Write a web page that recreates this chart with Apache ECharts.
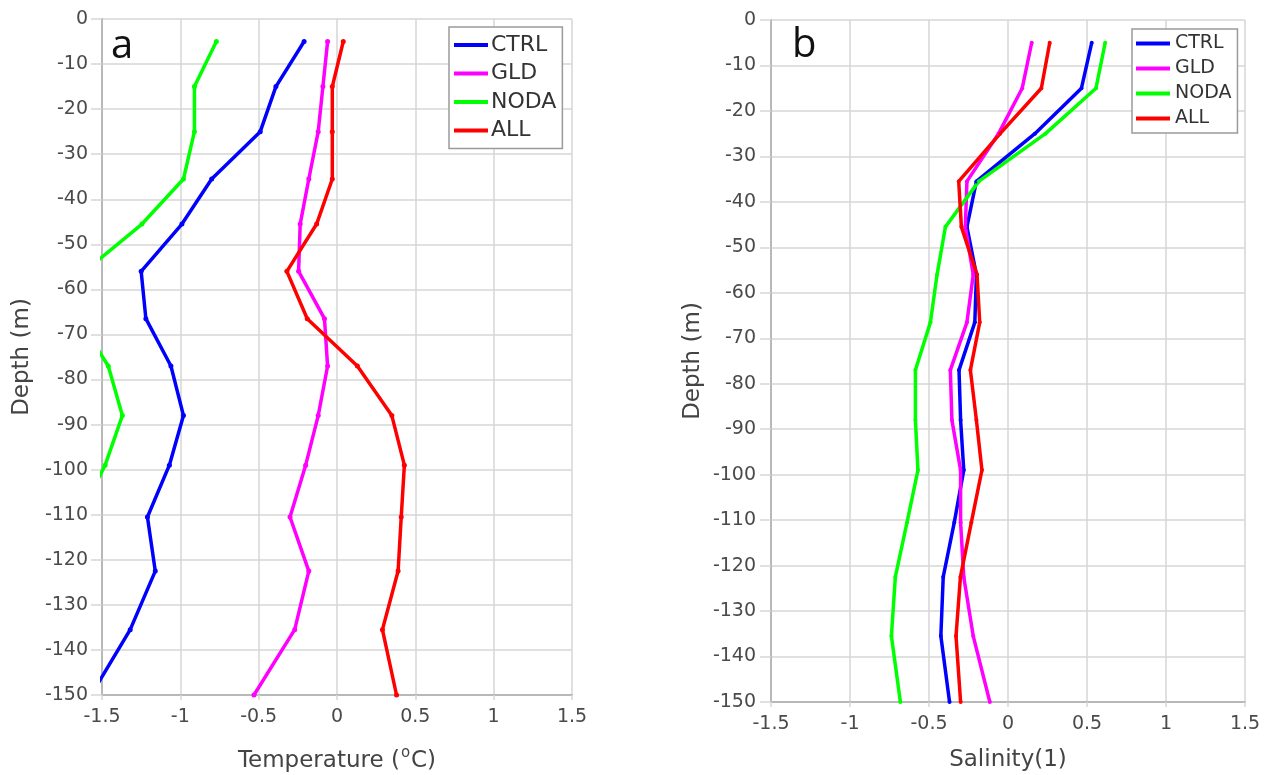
<!DOCTYPE html>
<html>
<head>
<meta charset="utf-8">
<script src="https://cdn.jsdelivr.net/npm/echarts@6/dist/echarts.min.js"></script>
<style>
html,body{margin:0;padding:0;background:#fff;}
#c{width:1284px;height:775px;}
</style>
</head>
<body>
<div id="c"></div>
<script>
// Depth levels (m) — plotted as negative values
const depths = [5, 15, 25, 35.5, 45.5, 56, 66.5, 77, 88, 99, 110.5, 122.5, 135.5, 150];
const seriesNames = ['CTRL', 'GLD', 'NODA', 'ALL'];
const seriesColors = ['#0000ff', '#ff00ff', '#00ff00', '#ff0000'];

// Panel a: temperature anomaly (°C)
const tempCTRL = [-0.21, -0.39, -0.49, -0.80, -0.99, -1.25, -1.22, -1.06, -0.98, -1.07, -1.21, -1.16, -1.32, -1.57];
const tempGLD  = [-0.06, -0.09, -0.12, -0.18, -0.235, -0.245, -0.08, -0.06, -0.12, -0.20, -0.30, -0.18, -0.27, -0.53];
const tempNODA = [-0.77, -0.91, -0.91, -0.98, -1.245, -1.61, -1.65, -1.46, -1.37, -1.48, -1.65, -1.70, -1.75, -1.80];
const tempALL  = [0.04, -0.03, -0.03, -0.03, -0.13, -0.32, -0.19, 0.13, 0.35, 0.43, 0.41, 0.39, 0.29, 0.38];

// Panel b: salinity anomaly
const salCTRL = [0.53, 0.465, 0.17, -0.20, -0.26, -0.20, -0.21, -0.31, -0.30, -0.28, -0.34, -0.41, -0.425, -0.37];
const salGLD  = [0.15, 0.09, -0.06, -0.26, -0.27, -0.22, -0.26, -0.365, -0.355, -0.30, -0.30, -0.28, -0.22, -0.115];
const salNODA = [0.615, 0.557, 0.237, -0.185, -0.396, -0.449, -0.491, -0.586, -0.586, -0.57, -0.639, -0.713, -0.738, -0.681];
const salALL  = [0.264, 0.211, -0.05, -0.312, -0.295, -0.196, -0.179, -0.238, -0.20, -0.165, -0.232, -0.301, -0.329, -0.30];

const tempSets = [tempCTRL, tempGLD, tempNODA, tempALL];
const salSets = [salCTRL, salGLD, salNODA, salALL];

const FONT = 'DejaVu Sans';
const labelColor = '#4a4a4a';
const gridColor = '#d6d6d6';
const axisColor = '#b8b8b8';

function pairs(vals) { return vals.map((v, i) => [v, -depths[i]]); }

function xAxisCfg(idx, name, gap, rich) {
  return {
    gridIndex: idx, type: 'value', min: -1.5, max: 1.5, interval: 0.5,
    name: name, nameLocation: 'middle', nameGap: gap,
    nameTextStyle: { fontFamily: FONT, fontSize: 23, color: '#444', rich: rich || {} },
    axisLine: { show: true, onZero: false, lineStyle: { color: axisColor, width: 2 } },
    axisTick: { show: true, inside: false, length: 5, lineStyle: { color: gridColor, width: 1.5 } },
    axisLabel: { fontFamily: FONT, fontSize: 19, color: labelColor, margin: 13 },
    splitLine: { show: true, lineStyle: { color: gridColor, width: 1.5 } }
  };
}
function yAxisCfg(idx, gap, margin) {
  return {
    gridIndex: idx, type: 'value', min: -150, max: 0, interval: 10,
    name: 'Depth (m)', nameLocation: 'middle', nameGap: gap,
    nameTextStyle: { fontFamily: FONT, fontSize: 23, color: '#444' },
    axisLine: { show: true, onZero: false, lineStyle: { color: axisColor, width: 2 } },
    axisTick: { show: true, inside: false, length: 11, lineStyle: { color: gridColor, width: 1.5 } },
    axisLabel: { fontFamily: FONT, fontSize: 19, color: labelColor, margin: margin },
    splitLine: { show: true, lineStyle: { color: gridColor, width: 1.5 } }
  };
}

const series = [];
seriesNames.forEach((n, k) => {
  series.push({
    name: n, type: 'line', xAxisIndex: 0, yAxisIndex: 0,
    data: pairs(tempSets[k]), clip: true,
    symbol: 'circle', symbolSize: 5, showSymbol: true,
    lineStyle: { color: seriesColors[k], width: 3.5 },
    itemStyle: { color: seriesColors[k] },
    emphasis: { disabled: true }, animation: false, z: 3
  });
});
seriesNames.forEach((n, k) => {
  series.push({
    name: n, type: 'line', xAxisIndex: 1, yAxisIndex: 1,
    data: pairs(salSets[k]), clip: true,
    symbol: 'circle', symbolSize: 4, showSymbol: true,
    lineStyle: { color: seriesColors[k], width: 3.5 },
    itemStyle: { color: seriesColors[k] },
    emphasis: { disabled: true }, animation: false, z: 3
  });
});

function legendCfg(left, top, gap, fs, pad, textPadLeft) {
  return {
    orient: 'vertical', left: left, top: top,
    data: seriesNames,
    backgroundColor: '#fff',
    borderColor: '#9a9a9a', borderWidth: 1.5,
    padding: pad,
    itemWidth: 34, itemHeight: 10, itemGap: gap,
    icon: 'path://M0,3 L34,3 L34,7 L0,7 Z',
    textStyle: { fontFamily: FONT, fontSize: fs, color: '#333', padding: [0, 0, 0, textPadLeft] },
    selectedMode: false
  };
}

const option = {
  backgroundColor: '#ffffff',
  animation: false,
  grid: [
    { left: 102, top: 19, width: 470, height: 676, containLabel: false, outerBoundsMode: 'none' },
    { left: 771, top: 20, width: 474, height: 682, containLabel: false, outerBoundsMode: 'none' }
  ],
  xAxis: [
    xAxisCfg(0, 'Temperature ({sup|o}C)', 51, { sup: { fontFamily: FONT, fontSize: 15, color: '#444', verticalAlign: 'bottom', padding: [0, 1, 15, 1] } }),
    xAxisCfg(1, 'Salinity(1)', 47)
  ],
  yAxis: [yAxisCfg(0, 68, 14), yAxisCfg(1, 66, 15)],
  legend: [
    legendCfg(449, 27, 6.5, 22, [7, 6, 7, 5], -2),
    legendCfg(1132, 29, 6, 19, [5, 6, 5, 4], 0)
  ],
  graphic: [
    { type: 'text', left: 111, top: 27, silent: true, style: { text: 'a', fontFamily: 'Open Sans', fontSize: 40, fill: '#111' } },
    { type: 'text', left: 792, top: 26, silent: true, style: { text: 'b', fontFamily: 'Open Sans', fontSize: 40, fill: '#111' } }
  ],
  series: series
};

const chart = echarts.init(document.getElementById('c'), null, { renderer: 'canvas' });
chart.setOption(option);
</script>
</body>
</html>
